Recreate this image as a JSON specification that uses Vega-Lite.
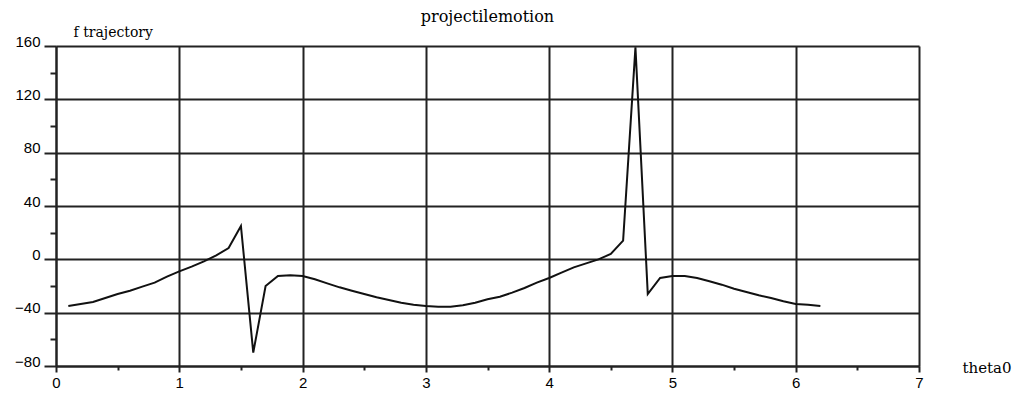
{
  "$schema": "https://vega.github.io/schema/vega-lite/v6.json",
  "autosize": {"type": "none"},
  "padding": {"left": 56, "top": 46, "right": 102, "bottom": 30},
  "width": 863,
  "height": 320,
  "background": "white",
  "config": {"view": {"stroke": null}},
  "title": {"text": "projectilemotion", "anchor": "middle", "frame": "group", "offset": 0, "font": "DejaVu Serif", "fontSize": 16, "fontWeight": "normal", "color": "black"},
  "data": {"values": [
    {"theta0": 0.1, "f": -35}, {"theta0": 0.2, "f": -33.5}, {"theta0": 0.3, "f": -32}, {"theta0": 0.4, "f": -29},
    {"theta0": 0.5, "f": -26}, {"theta0": 0.6, "f": -23.5}, {"theta0": 0.7, "f": -20.5}, {"theta0": 0.8, "f": -17.5},
    {"theta0": 0.9, "f": -13}, {"theta0": 1.0, "f": -9}, {"theta0": 1.1, "f": -5.5}, {"theta0": 1.2, "f": -1.5},
    {"theta0": 1.3, "f": 3}, {"theta0": 1.4, "f": 8.5}, {"theta0": 1.5, "f": 25}, {"theta0": 1.6, "f": -70},
    {"theta0": 1.7, "f": -20}, {"theta0": 1.8, "f": -12.5}, {"theta0": 1.9, "f": -12}, {"theta0": 2.0, "f": -12.5},
    {"theta0": 2.1, "f": -15}, {"theta0": 2.2, "f": -18}, {"theta0": 2.3, "f": -21}, {"theta0": 2.4, "f": -23.5},
    {"theta0": 2.5, "f": -26}, {"theta0": 2.6, "f": -28.5}, {"theta0": 2.7, "f": -30.5}, {"theta0": 2.8, "f": -32.5},
    {"theta0": 2.9, "f": -34}, {"theta0": 3.0, "f": -35}, {"theta0": 3.1, "f": -35.5}, {"theta0": 3.2, "f": -35.5},
    {"theta0": 3.3, "f": -34.5}, {"theta0": 3.4, "f": -32.5}, {"theta0": 3.5, "f": -30}, {"theta0": 3.6, "f": -28},
    {"theta0": 3.7, "f": -25}, {"theta0": 3.8, "f": -21.5}, {"theta0": 3.9, "f": -17.5}, {"theta0": 4.0, "f": -14},
    {"theta0": 4.1, "f": -10}, {"theta0": 4.2, "f": -6}, {"theta0": 4.3, "f": -3}, {"theta0": 4.4, "f": 0},
    {"theta0": 4.5, "f": 4}, {"theta0": 4.6, "f": 14}, {"theta0": 4.7, "f": 159}, {"theta0": 4.8, "f": -26},
    {"theta0": 4.9, "f": -14}, {"theta0": 5.0, "f": -12.5}, {"theta0": 5.1, "f": -12.5}, {"theta0": 5.2, "f": -14},
    {"theta0": 5.3, "f": -16.5}, {"theta0": 5.4, "f": -19}, {"theta0": 5.5, "f": -22}, {"theta0": 5.6, "f": -24.5},
    {"theta0": 5.7, "f": -27}, {"theta0": 5.8, "f": -29}, {"theta0": 5.9, "f": -31.5}, {"theta0": 6.0, "f": -33.5},
    {"theta0": 6.1, "f": -34}, {"theta0": 6.2, "f": -35}
  ]},
  "layer": [
    {
      "mark": {"type": "line", "color": "#111", "strokeWidth": 2, "interpolate": "linear"},
      "encoding": {
        "x": {"field": "theta0", "type": "quantitative",
          "scale": {"domain": [0, 7], "nice": false, "zero": false},
          "axis": {"orient": "bottom", "values": [0, 1, 2, 3, 4, 5, 6, 7], "grid": true, "gridColor": "#222", "gridWidth": 2, "gridOpacity": 1,
            "domainColor": "#222", "domainWidth": 2, "tickColor": "#222", "tickWidth": 2, "tickSize": 6,
            "labelFont": "Liberation Sans", "labelFontSize": 15, "labelColor": "black", "labelPadding": 3, "labelFlush": false,
            "title": "theta0", "titleFont": "DejaVu Serif", "titleFontSize": 15, "titleFontWeight": "normal", "titleColor": "black",
            "titleAngle": 0, "titleAlign": "left", "titleBaseline": "middle", "titleX": 906, "titleY": 1}},
        "y": {"field": "f", "type": "quantitative",
          "scale": {"domain": [-80, 160], "nice": false, "zero": false},
          "axis": {"orient": "left", "values": [-80, -40, 0, 40, 80, 120, 160], "grid": true, "gridColor": "#222", "gridWidth": 2, "gridOpacity": 1,
            "domainColor": "#222", "domainWidth": 2, "tickColor": "#222", "tickWidth": 2, "tickSize": 12,
            "labelFont": "Liberation Sans", "labelFontSize": 15, "labelColor": "black", "labelPadding": 4, "labelOffset": -5, "labelFlush": false,
            "title": "f trajectory", "titleFont": "DejaVu Serif", "titleFontSize": 14, "titleFontWeight": "normal", "titleColor": "black",
            "titleAngle": 0, "titleAlign": "left", "titleBaseline": "middle", "titleX": 17, "titleY": -14}}
      }
    },
    {
      "mark": {"type": "point", "opacity": 0},
      "encoding": {
        "x": {"field": "theta0", "type": "quantitative",
          "axis": {"orient": "bottom", "values": [0.5, 1.5, 2.5, 3.5, 4.5, 5.5, 6.5], "grid": false, "domain": false, "labels": false, "title": null,
            "tickColor": "#222", "tickWidth": 2, "tickSize": 4}},
        "y": {"field": "f", "type": "quantitative",
          "axis": {"orient": "left", "values": [-60, -20, 20, 60, 100, 140], "grid": false, "domain": false, "labels": false, "title": null,
            "tickColor": "#222", "tickWidth": 2, "tickSize": 6}}
      }
    }
  ],
  "resolve": {"axis": {"x": "independent", "y": "independent"}}
}
